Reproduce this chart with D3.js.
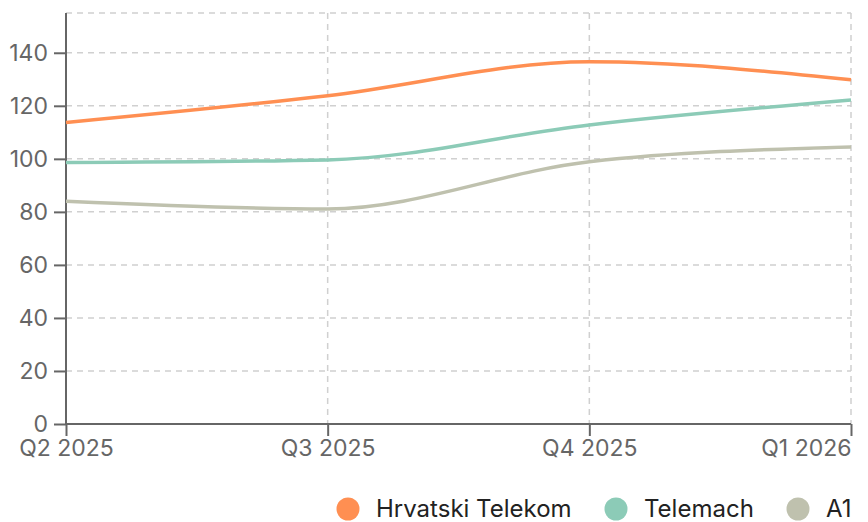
<!DOCTYPE html>
<html>
<head>
<meta charset="utf-8">
<script src="https://cdn.jsdelivr.net/npm/d3@7"></script>
<style>
  body { margin: 0; background: #fff; }
  svg { font-family: Inter, "Noto Sans", sans-serif; }
</style>
</head>
<body>
<div id="chart"></div>
<script>
var quarters = ["Q2 2025", "Q3 2025", "Q4 2025", "Q1 2026"]
var hrvatski = [113.7, 123.8, 136.6, 129.8]
var telemach = [98.6, 99.6, 112.8, 122.2]
var a1 = [84.0, 81.1, 98.9, 104.5]
var yTicks = [0, 20, 40, 60, 80, 100, 120, 140]

var series = [
  {name: "Hrvatski Telekom", values: hrvatski, color: "#ff8f52"},
  {name: "Telemach", values: telemach, color: "#8ccbb7"},
  {name: "A1", values: a1, color: "#bfc1ae"}
]

var width = 868, height = 522
var plotLeft = 66, plotRight = 851, plotTop = 13, plotBottom = 424

var x = d3.scalePoint().domain(quarters).range([plotLeft, plotRight])
var y = d3.scaleLinear().domain([0, 155]).range([plotBottom, plotTop])

var svg = d3.select("#chart").append("svg")
  .attr("width", width).attr("height", height)

// grid
svg.append("g").selectAll("line")
  .data(yTicks.slice(1).concat([155]))
  .enter().append("line")
  .attr("x1", plotLeft).attr("x2", plotRight)
  .attr("y1", function(d){ return y(d); })
  .attr("y2", function(d){ return y(d); })
  .attr("stroke", "#d0d0d0").attr("stroke-width", 1.5)
  .attr("stroke-dasharray", "6,5")

svg.append("g").selectAll("line")
  .data(quarters.slice(1))
  .enter().append("line")
  .attr("x1", function(d){ return x(d); })
  .attr("x2", function(d){ return x(d); })
  .attr("y1", plotTop).attr("y2", plotBottom)
  .attr("stroke", "#d0d0d0").attr("stroke-width", 1.5)
  .attr("stroke-dasharray", "6,5")

// axes
var yAxis = svg.append("g")
  .attr("transform", "translate(" + plotLeft + ",0)")
  .call(d3.axisLeft(y).tickValues(yTicks).tickSize(12).tickPadding(6))
yAxis.select(".domain").attr("d", "M0," + plotTop + "V" + plotBottom)

var xAxis = svg.append("g")
  .attr("transform", "translate(0," + plotBottom + ")")
  .call(d3.axisBottom(x).tickSize(12).tickPadding(4))
xAxis.select(".domain").attr("d", "M" + plotLeft + ",0H" + plotRight)

svg.selectAll(".tick text").attr("fill", "#666")
yAxis.attr("font-family", null).attr("font-size", 23)
xAxis.attr("font-family", null).attr("font-size", 23)
svg.selectAll(".tick line, .domain").attr("stroke", "#666").attr("stroke-width", 2)

xAxis.selectAll(".tick text")
  .attr("text-anchor", function(d, i){ return i == quarters.length - 1 ? "end" : "middle"; })

// lines
var line = d3.line()
  .x(function(d, i){ return x(quarters[i]); })
  .y(function(d){ return y(d); })
  .curve(d3.curveMonotoneX)

series.slice().reverse().forEach(function(s){
  svg.append("path")
    .attr("d", line(s.values))
    .attr("fill", "none")
    .attr("stroke", s.color)
    .attr("stroke-width", 3.5)
})

// legend
var legendX = [348, 616, 798]
series.forEach(function(s, i){
  var g = svg.append("g").attr("transform", "translate(" + legendX[i] + ",509)")
  g.append("circle").attr("r", 11.5).attr("fill", s.color)
  g.append("text").attr("x", 28).attr("dy", "0.35em")
    .style("font-size", "24px").attr("fill", "#222")
    .text(s.name)
})
</script>
</body>
</html>
